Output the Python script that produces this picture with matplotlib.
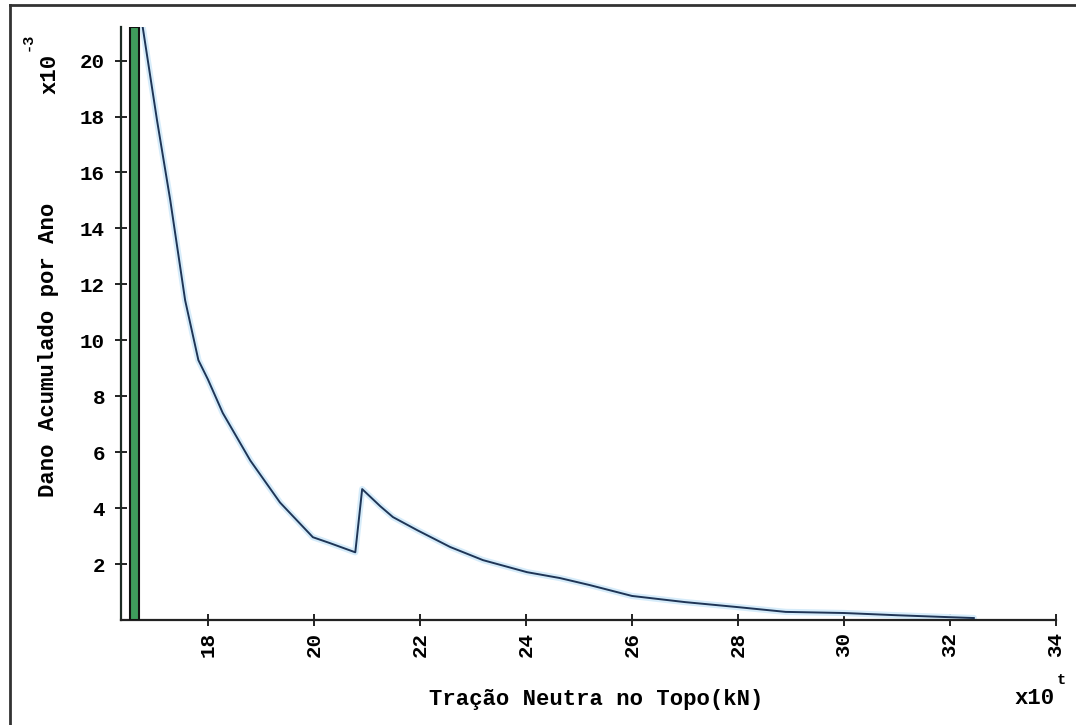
import matplotlib
matplotlib.use("Agg")
import matplotlib.pyplot as plt
from matplotlib.lines import Line2D

# Tração neutra no topo (x10^t kN) vs. dano acumulado por ano (x10^-3)
tracao = [16.72, 16.77, 17.04, 17.29, 17.57, 17.82, 18.0, 18.28, 18.8, 19.36,
          19.98, 20.3, 20.78, 20.91, 21.25, 21.49, 21.95, 22.57, 23.19, 24.02,
          24.64, 25.2, 26.0, 27.0, 28.0, 28.9, 30.0, 31.0, 32.0, 32.45]
dano = [21.6, 21.19, 17.86, 15.0, 11.43, 9.29, 8.6, 7.4, 5.7, 4.2,
        2.96, 2.75, 2.42, 4.68, 4.07, 3.68, 3.21, 2.61, 2.14, 1.71,
        1.5, 1.25, 0.86, 0.64, 0.46, 0.29, 0.25, 0.17, 0.1, 0.07]

# Marcador vertical (faixa verde)
marcador_x = 16.61
marcador_largura = 0.17
marcador_altura = 21.2

x_ticks = [18, 20, 22, 24, 26, 28, 30, 32, 34]
y_ticks = [2, 4, 6, 8, 10, 12, 14, 16, 18, 20]

FONT = ["Liberation Mono", "DejaVu Sans Mono"]
plt.rcParams["font.family"] = FONT
plt.rcParams["font.weight"] = "bold"

fig = plt.figure(figsize=(10.76, 7.25), dpi=100)
W, H = 1076, 725
ax = fig.add_axes([121 / W, 1 - 620 / H, (1056 - 121) / W, (620 - 27) / H])

ax.bar([marcador_x], [marcador_altura], width=marcador_largura,
       color="#3f9c5c", edgecolor="#111111", linewidth=1.5, zorder=3)

ax.plot(tracao, dano, color="#d6ecfa", linewidth=4.5, solid_capstyle="round", zorder=2)
ax.plot(tracao, dano, color="#1f3556", linewidth=1.4, zorder=4)

ax.set_xlim(16.36, 34.0)
ax.set_ylim(0, 21.2)

for s in ("top", "right"):
    ax.spines[s].set_visible(False)
ax.spines["left"].set_color("#1d2b24")
ax.spines["bottom"].set_color("#222222")
ax.spines["left"].set_linewidth(1.6)
ax.spines["bottom"].set_linewidth(1.6)

ax.set_xticks(x_ticks)
ax.set_yticks(y_ticks)
ax.set_xticklabels([str(t) for t in x_ticks], rotation=90)
ax.set_yticklabels([str(t) for t in y_ticks])
ax.tick_params(axis="both", direction="inout", length=9, width=1.4,
               color="#222222", labelsize=15, pad=4)
ax.tick_params(axis="y", pad=7)

fs = 16
fig.text(49 / W, 1 - 350 / H, "Dano Acumulado por Ano", rotation=90,
         ha="center", va="center", fontsize=fs)
fig.text(50 / W, 1 - 74 / H, "x10", rotation=90, ha="center", va="center", fontsize=fs)
fig.text(28 / W, 1 - 42 / H, "-3", rotation=90, ha="center", va="center", fontsize=11)
fig.text(596 / W, 1 - 700 / H, "Tração Neutra no Topo(kN)",
         ha="center", va="center", fontsize=fs)
fig.text(1035 / W, 1 - 698 / H, "x10", ha="center", va="center", fontsize=fs)
fig.text(1061 / W, 1 - 680 / H, "t", ha="center", va="center", fontsize=11)

# Moldura externa (apenas bordas superior e esquerda visíveis)
fig.add_artist(Line2D([10 / W, 1.0], [1 - 5 / H, 1 - 5 / H], color="#333333",
                      linewidth=2, transform=fig.transFigure))
fig.add_artist(Line2D([10 / W, 10 / W], [1 - 5 / H, 0.0], color="#333333",
                      linewidth=2, transform=fig.transFigure))

fig.savefig("out.png", dpi=100)
